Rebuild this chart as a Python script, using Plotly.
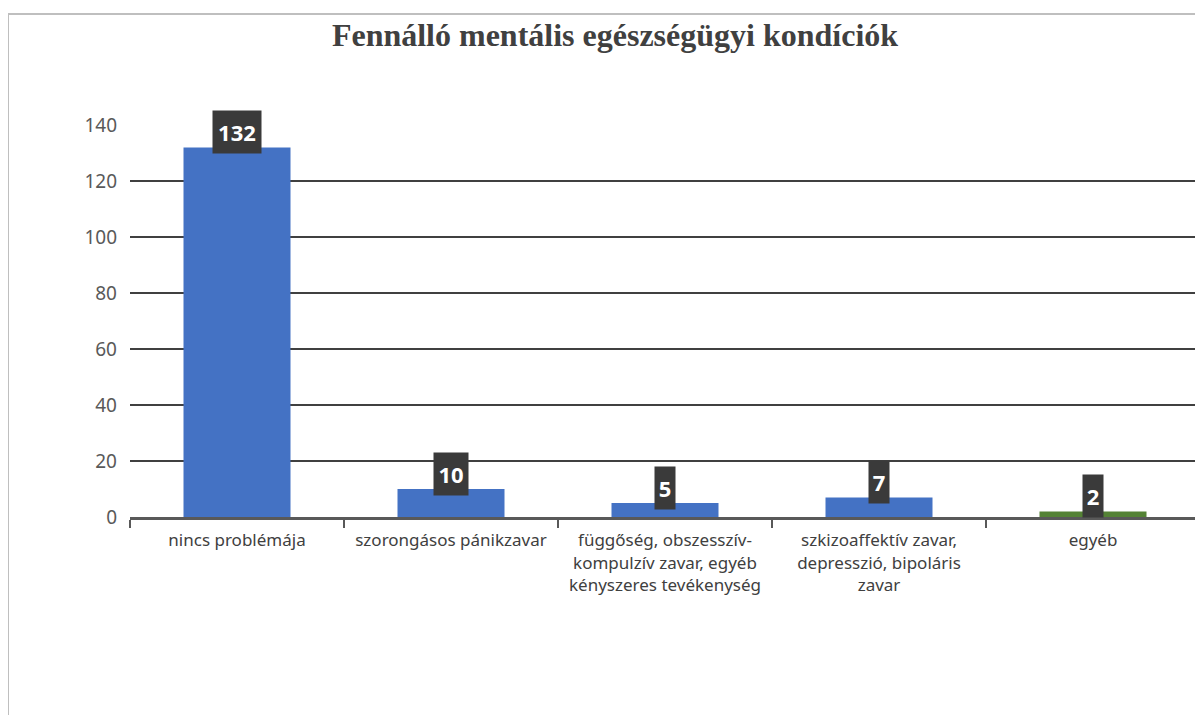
import plotly.graph_objects as go

categories = ['nincs problémája', 'szorongásos pánikzavar',
              'függőség, obszesszív-<br>kompulzív zavar, egyéb<br>kényszeres tevékenység',
              'szkizoaffektív zavar,<br>depresszió, bipoláris<br>zavar', 'egyéb']
counts = [132, 10, 5, 7, 2]
bar_colors = ['#4472C4', '#4472C4', '#4472C4', '#4472C4', '#548235']
y_ticks = [0, 20, 40, 60, 80, 100, 120, 140]

# page body adds an 8px offset, so the figure is sized to compensate
W, H = 1195, 707
ML, MR, MT, MB = 122, 3, 117, 198
pw, ph = W - ML - MR, H - MT - MB

fig = go.Figure()
fig.add_bar(x=categories, y=counts, marker_color=bar_colors,
            marker_line_width=0, hoverinfo='x+y')

# dark boxed value labels above each bar
for c, v in zip(categories, counts):
    s = str(v)
    fig.add_annotation(x=c, y=v, text=f'<b>{s}</b>', showarrow=False,
                       yshift=15, yanchor='middle',
                       width=14 * len(s) + 2, height=38, borderpad=2,
                       bgcolor='#3a3a3a',
                       font=dict(family='Noto Sans', size=22, color='white'))

# outer chart frame (left + top edges visible)
fig.add_shape(type='rect', xref='paper', yref='paper',
              x0=(0 - ML) / pw, x1=1.05, y0=-0.7, y1=1 + (MT - 6) / ph,
              line=dict(color='#BFBFBF', width=2), fillcolor='rgba(0,0,0,0)',
              layer='below')

fig.update_layout(
    width=W, height=H,
    margin=dict(l=ML, r=MR, t=MT, b=MB),
    paper_bgcolor='white', plot_bgcolor='white',
    bargap=0.5, showlegend=False,
    title=dict(text='<b>Fennálló mentális egészségügyi kondíciók</b>',
               x=607 / W, xanchor='center', xref='container',
               y=1 - 27 / H, yanchor='middle', yref='container',
               font=dict(family='Liberation Serif', size=32, color='#404040')),
)
fig.update_xaxes(
    tickson='boundaries', ticks='outside', ticklen=8, tickwidth=2,
    tickcolor='#595959', showline=True, linecolor='#595959', linewidth=3,
    ticklabelstandoff=6,
    tickfont=dict(family='Noto Sans', size=17, color='#404040'),
    showgrid=False,
)
fig.update_yaxes(
    range=[0, 140], tickvals=y_ticks, showgrid=True,
    gridcolor='#404040', gridwidth=1.5, zeroline=False, showline=False,
    ticks='', ticklabelstandoff=12,
    tickfont=dict(family='Noto Sans', size=19, color='#595959'),
)

fig.write_html('out.html')
